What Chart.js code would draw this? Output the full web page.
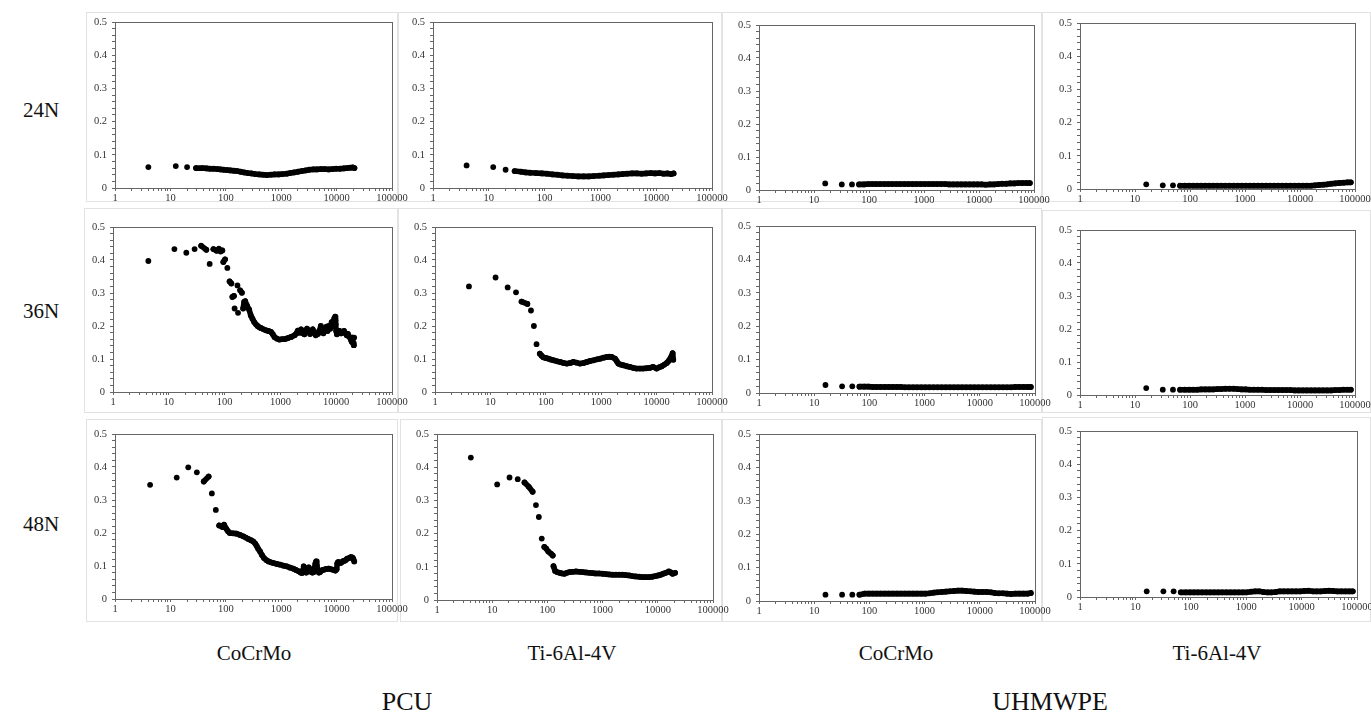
<!DOCTYPE html>
<html>
<head>
<meta charset="utf-8">
<script src="https://cdn.jsdelivr.net/npm/chart.js@4.4.1/dist/chart.umd.min.js"></script>
<style>
  body { margin: 0; background: #fff; width: 1371px; height: 714px; position: relative; overflow: hidden;
         font-family: "Liberation Serif", "DejaVu Serif", serif; }
  .tile { position: absolute; border: 1px solid #e2e2e2; box-sizing: border-box; }
  canvas { position: absolute; }
  .lbl { position: absolute; color: #111; white-space: nowrap; transform: translate(-50%, -50%); }
</style>
</head>
<body>
<script>
// tick labels
const xTickLabels = [1, 10, 100, 1000, 10000, 100000];
const yTickLabels = ['0', '0.1', '0.2', '0.3', '0.4', '0.5'];
const rowLabels = ['24N', '36N', '48N'];
const colLabels = ['CoCrMo', 'Ti-6Al-4V', 'CoCrMo', 'Ti-6Al-4V'];
const groupLabels = ['PCU', 'UHMWPE'];

// PCU panels: [cycles, friction coefficient]
const pcuCoCrMo24 = [[4,0.063],[12.5,0.066],[20,0.063],[29,0.060],[38,0.060],[45,0.059],[52,0.058],[60,0.058],[70,0.057],[80,0.056],
  [92,0.055],[105,0.054],[120,0.053],[140,0.052],[160,0.051],[185,0.049],[215,0.047],[250,0.045],[290,0.044],[340,0.042],
  [400,0.041],[470,0.040],[550,0.039],[650,0.040],[760,0.041],[900,0.041],[1050,0.042],[1250,0.043],[1450,0.045],[1700,0.047],
  [2000,0.049],[2350,0.051],[2750,0.053],[3200,0.055],[3800,0.056],[4400,0.056],[5200,0.057],[6100,0.057],[7200,0.056],[8400,0.057],
  [9800,0.058],[11500,0.058],[13500,0.059],[15500,0.060],[17500,0.061],[19500,0.062],[21000,0.060]];

const pcuTi24 = [[4,0.068],[12,0.063],[20,0.055],[29,0.051],[38,0.049],[46,0.047],[55,0.046],[70,0.045],[90,0.044],[110,0.043],
  [140,0.041],[170,0.040],[210,0.038],[260,0.037],[320,0.036],[400,0.035],[500,0.035],[620,0.035],[760,0.036],[950,0.037],
  [1150,0.038],[1400,0.039],[1700,0.040],[2100,0.041],[2500,0.042],[3000,0.043],[3700,0.044],[4500,0.044],[5500,0.043],[6600,0.044],
  [8000,0.045],[9500,0.044],[11500,0.045],[13500,0.043],[16000,0.044],[18500,0.042],[20500,0.044]];

const pcuCoCrMo36 = [[4.3,0.397],[12.6,0.433],[20.6,0.422],[29,0.433],[38,0.443],[47,0.431],[54,0.388],[63,0.433],[72,0.428],[79,0.434],
  [85,0.426],[91,0.429],[95,0.394],[102,0.402],[112,0.376],[123,0.335],[132,0.329],[138,0.288],[147,0.291],[151,0.253],
  [170,0.323],[174,0.240],[190,0.308],[204,0.301],[215,0.253],[224,0.273],[234,0.275],[250,0.263],[275,0.250],[295,0.232],
  [316,0.222],[339,0.212],[365,0.205],[390,0.200],[420,0.196],[447,0.194],[500,0.190],[550,0.187],[610,0.185],[680,0.182],
  [730,0.175],[780,0.167],[860,0.162],[960,0.159],[1070,0.160],[1180,0.160],[1350,0.163],[1560,0.167],[1800,0.172],[1950,0.178],
  [2050,0.186],[2200,0.180],[2350,0.190],[2500,0.178],[2700,0.175],[2850,0.185],[3000,0.192],[3200,0.182],[3400,0.176],[3570,0.186],
  [3800,0.190],[4000,0.180],[4300,0.172],[4500,0.180],[4700,0.176],[5000,0.185],[5300,0.200],[5600,0.188],[5900,0.178],[6300,0.190],
  [6700,0.198],[7000,0.185],[7400,0.200],[7800,0.192],[8300,0.212],[8800,0.200],[9000,0.211],[9200,0.222],[9600,0.228],[9700,0.216],
  [9800,0.205],[10000,0.185],[10300,0.175],[10800,0.180],[11500,0.185],[12200,0.178],[13000,0.182],[13800,0.185],[14600,0.178],[15400,0.172],
  [16200,0.176],[17000,0.168],[17700,0.165],[18400,0.158],[19000,0.152],[19600,0.165],[20200,0.148],[20700,0.142],[21000,0.165]];

const pcuTi36 = [[4.1,0.320],[12.4,0.347],[20.5,0.317],[29,0.302],[36.5,0.274],[46.5,0.267],[54,0.247],[61,0.200],[68,0.145],[78,0.116],
  [84,0.110],[90,0.105],[100,0.103],[112,0.101],[125,0.098],[138,0.096],[160,0.093],[182,0.091],[210,0.088],[240,0.086],
  [275,0.088],[315,0.091],[360,0.089],[415,0.086],[480,0.088],[550,0.091],[630,0.094],[725,0.096],[840,0.099],[960,0.101],
  [1100,0.104],[1260,0.106],[1400,0.107],[1550,0.106],[1780,0.101],[1900,0.094],[2040,0.086],[2250,0.083],[2500,0.081],[2900,0.078],
  [3300,0.076],[3800,0.073],[4350,0.071],[5000,0.071],[5700,0.071],[6500,0.072],[7500,0.073],[8600,0.076],[10000,0.071],[11200,0.075],
  [12400,0.078],[13800,0.083],[15300,0.088],[16500,0.094],[17500,0.100],[18500,0.108],[19500,0.118],[20000,0.098]];

const pcuCoCrMo48 = [[4.3,0.346],[13,0.368],[21,0.399],[30,0.384],[40,0.356],[49,0.371],[56,0.320],[66,0.270],[76,0.223],[87,0.218],
  [93,0.225],[103,0.212],[110,0.205],[118,0.200],[135,0.199],[156,0.198],[180,0.194],[207,0.190],[230,0.186],[255,0.182],
  [285,0.178],[315,0.174],[340,0.168],[360,0.161],[385,0.152],[415,0.144],[450,0.133],[490,0.124],[540,0.118],[590,0.114],
  [655,0.111],[725,0.109],[840,0.106],[960,0.104],[1100,0.101],[1260,0.099],[1450,0.095],[1660,0.092],[1850,0.088],[2070,0.084],
  [2250,0.080],[2380,0.079],[2500,0.090],[2550,0.099],[2650,0.092],[2750,0.085],[2850,0.080],[2930,0.084],[3050,0.092],[3150,0.096],
  [3270,0.090],[3370,0.085],[3500,0.082],[3650,0.080],[3870,0.082],[4000,0.095],[4150,0.108],[4270,0.114],[4400,0.100],[4550,0.088],
  [4790,0.080],[5050,0.082],[5300,0.086],[5600,0.088],[5900,0.089],[6500,0.091],[7250,0.092],[8000,0.090],[8900,0.088],[9500,0.086],
  [10000,0.090],[10300,0.108],[10600,0.112],[11000,0.111],[11800,0.109],[12500,0.112],[13100,0.115],[14000,0.116],[14600,0.118],[15500,0.122],
  [16800,0.124],[18000,0.127],[19200,0.126],[20000,0.122],[20800,0.114]];

const pcuTi48 = [[4.1,0.429],[12.3,0.348],[20.6,0.369],[29,0.364],[38.5,0.354],[46,0.341],[54,0.326],[62,0.286],[70,0.250],[79,0.185],
  [88,0.160],[95,0.155],[104,0.146],[117,0.139],[125,0.134],[129,0.102],[138,0.087],[150,0.084],[166,0.082],[185,0.080],
  [204,0.079],[225,0.082],[250,0.084],[290,0.085],[330,0.086],[380,0.085],[435,0.084],[500,0.083],[570,0.082],[660,0.081],
  [750,0.080],[860,0.080],[1000,0.079],[1150,0.078],[1320,0.077],[1510,0.076],[1740,0.076],[2000,0.076],[2290,0.076],[2640,0.075],
  [3030,0.074],[3470,0.072],[3980,0.071],[4580,0.070],[5250,0.069],[6000,0.069],[6900,0.069],[7900,0.070],[9100,0.072],[10100,0.074],
  [11300,0.076],[12500,0.079],[13900,0.082],[15900,0.086],[17200,0.083],[18500,0.079],[20600,0.082]];

// UHMWPE panels share the same cycle points
const uhmCycles = [16,32,49,66,81,97,115,135,160,190,225,265,315,370,440,520,620,730,870,1030,
  1220,1450,1720,2040,2420,2870,3400,4030,4780,5670,6720,7970,9450,11200,13300,15800,18700,22200,26300,31200,
  37000,43900,52000,61700,73100,84000];

const uhmCoCrMo24 = [0.020,0.017,0.017,0.017,0.017,0.018,0.018,0.018,0.018,0.018,
  0.018,0.018,0.018,0.018,0.018,0.018,0.018,0.018,0.018,0.018,
  0.018,0.018,0.018,0.018,0.018,0.017,0.017,0.017,0.017,0.017,
  0.017,0.017,0.017,0.017,0.016,0.017,0.017,0.018,0.019,0.019,
  0.020,0.020,0.021,0.021,0.021,0.021];
const uhmTi24 = [0.014,0.011,0.011,0.010,0.010,0.010,0.010,0.010,0.010,0.010,
  0.010,0.010,0.010,0.010,0.010,0.010,0.010,0.010,0.010,0.010,
  0.010,0.010,0.010,0.010,0.010,0.010,0.010,0.010,0.010,0.010,
  0.010,0.010,0.010,0.010,0.010,0.010,0.011,0.012,0.013,0.014,
  0.016,0.017,0.018,0.019,0.020,0.020];
const uhmCoCrMo36 = [0.024,0.020,0.020,0.019,0.019,0.019,0.018,0.018,0.018,0.018,
  0.018,0.018,0.018,0.018,0.017,0.017,0.017,0.017,0.017,0.017,
  0.017,0.017,0.017,0.017,0.017,0.017,0.017,0.017,0.017,0.017,
  0.017,0.017,0.017,0.017,0.017,0.017,0.017,0.017,0.017,0.017,
  0.017,0.018,0.018,0.018,0.018,0.018];
const uhmTi36 = [0.021,0.016,0.016,0.016,0.016,0.016,0.016,0.016,0.017,0.017,
  0.017,0.017,0.018,0.018,0.019,0.019,0.019,0.018,0.017,0.017,
  0.016,0.016,0.016,0.016,0.015,0.015,0.015,0.015,0.015,0.015,
  0.015,0.014,0.014,0.014,0.014,0.014,0.014,0.014,0.014,0.014,
  0.014,0.015,0.015,0.016,0.016,0.016];
const uhmCoCrMo48 = [0.019,0.019,0.019,0.019,0.022,0.022,0.022,0.022,0.022,0.022,
  0.022,0.022,0.022,0.022,0.022,0.022,0.022,0.022,0.022,0.022,
  0.023,0.025,0.026,0.027,0.028,0.029,0.030,0.031,0.031,0.030,
  0.029,0.028,0.027,0.027,0.027,0.026,0.024,0.023,0.023,0.022,
  0.021,0.022,0.022,0.022,0.022,0.024];
const uhmTi48 = [0.017,0.017,0.017,0.014,0.014,0.014,0.014,0.014,0.014,0.014,
  0.014,0.014,0.014,0.014,0.014,0.014,0.014,0.014,0.014,0.014,
  0.016,0.017,0.017,0.015,0.014,0.014,0.015,0.017,0.017,0.017,
  0.017,0.017,0.017,0.018,0.019,0.017,0.017,0.017,0.018,0.019,
  0.018,0.017,0.017,0.017,0.017,0.017];

function pairs(xs, ys) { return xs.map((x, i) => ({ x, y: ys[i] })); }
function pts(list) { return list.map(p => ({ x: p[0], y: p[1] })); }

// plot area of each panel on the page: left, top, right, bottom
const panels = [
  { data: pts(pcuCoCrMo24), box: [115, 22, 392, 188] },
  { data: pts(pcuTi24), box: [433, 22, 712, 188] },
  { data: pairs(uhmCycles, uhmCoCrMo24), box: [759, 25, 1034, 190] },
  { data: pairs(uhmCycles, uhmTi24), box: [1080, 23, 1355, 189] },
  { data: pts(pcuCoCrMo36), box: [113, 227, 392, 392] },
  { data: pts(pcuTi36), box: [435, 227, 712, 392] },
  { data: pairs(uhmCycles, uhmCoCrMo36), box: [759, 226, 1035, 393] },
  { data: pairs(uhmCycles, uhmTi36), box: [1080, 230, 1355, 395] },
  { data: pts(pcuCoCrMo48), box: [115, 434, 392, 599] },
  { data: pts(pcuTi48), box: [437, 434, 713, 600] },
  { data: pairs(uhmCycles, uhmCoCrMo48), box: [759, 434, 1035, 601] },
  { data: pairs(uhmCycles, uhmTi48), box: [1080, 431, 1357, 597] }
];

// the screenshot tiles behind the panels
const tiles = [
  [86, 12, 312, 190], [398, 12, 324, 190], [722, 12, 320, 190], [1042, 12, 329, 190],
  [84, 208, 314, 205], [398, 208, 324, 205], [722, 208, 320, 205], [1042, 210, 329, 203],
  [86, 419, 312, 203], [400, 419, 322, 203], [722, 419, 320, 203], [1042, 417, 329, 205]
];

tiles.forEach(t => {
  const d = document.createElement('div');
  d.className = 'tile';
  Object.assign(d.style, { left: t[0] + 'px', top: t[1] + 'px', width: t[2] + 'px', height: t[3] + 'px' });
  document.body.appendChild(d);
});

const plotBox = {
  id: 'plotBox',
  beforeDatasetsDraw(chart) {
    const a = chart.chartArea, c = chart.ctx;
    c.save();
    c.strokeStyle = '#666';
    c.lineWidth = 1;
    c.strokeRect(Math.round(a.left) + 0.5, Math.round(a.top) + 0.5, Math.round(a.right - a.left), Math.round(a.bottom - a.top));
    c.restore();
  }
};

const tickFont = { family: 'Liberation Serif', size: 10.5 };
const padL = 32, padR = 20, padT = 7, padB = 20;
const far = ctx => Math.hypot(ctx.p1.x - ctx.p0.x, ctx.p1.y - ctx.p0.y) > 7;

panels.forEach(p => {
  const [L, T, R, B] = p.box;
  const cv = document.createElement('canvas');
  cv.width = R - L + padL + padR;
  cv.height = B - T + padT + padB;
  cv.style.left = (L - padL) + 'px';
  cv.style.top = (T - padT) + 'px';
  document.body.appendChild(cv);

  new Chart(cv, {
    type: 'scatter',
    data: {
      datasets: [{
        data: p.data,
        showLine: true,
        borderWidth: 5.6,
        borderCapStyle: 'round',
        borderJoinStyle: 'round',
        borderColor: '#000',
        segment: { borderColor: ctx => far(ctx) ? 'rgba(0,0,0,0)' : '#000' },
        pointRadius: 2.9,
        pointBorderWidth: 0,
        pointBackgroundColor: '#000'
      }]
    },
    options: {
      responsive: false,
      animation: false,
      events: [],
      layout: { padding: { left: 2, right: padR, top: padT, bottom: 2 } },
      plugins: { legend: { display: false }, tooltip: { enabled: false } },
      scales: {
        x: {
          type: 'logarithmic',
          min: 1, max: 100000,
          afterBuildTicks: s => {
            const t = [];
            xTickLabels.forEach(d => { for (let k = 1; k <= 9; k++) if (k * d <= 100000) t.push({ value: k * d }); });
            s.ticks = t;
          },
          afterFit: s => { s.height = padB - 2; s.paddingLeft = 0; s.paddingRight = 0; },
          border: { display: true, color: '#555' },
          grid: { drawOnChartArea: false, drawTicks: true, tickLength: 3, color: '#666' },
          ticks: {
            autoSkip: false, maxRotation: 0, padding: 1, color: '#333', font: tickFont,
            callback: v => xTickLabels.includes(v) ? String(v) : ''
          }
        },
        y: {
          min: 0, max: 0.5,
          afterBuildTicks: s => {
            const t = [];
            for (let i = 0; i <= 25; i++) t.push({ value: i / 50 });
            s.ticks = t;
          },
          afterFit: s => { s.width = padL - 2; s.paddingTop = 0; s.paddingBottom = 0; },
          border: { display: true, color: '#555' },
          grid: { drawOnChartArea: false, drawTicks: true, tickLength: 3, color: '#666' },
          ticks: {
            autoSkip: false, padding: 5, color: '#333', font: tickFont,
            callback: (v, i) => i % 5 === 0 ? yTickLabels[i / 5] : ''
          }
        }
      }
    },
    plugins: [plotBox]
  });
});

function addLabel(text, x, y, size) {
  const d = document.createElement('div');
  d.className = 'lbl';
  d.textContent = text;
  Object.assign(d.style, { left: x + 'px', top: y + 'px', fontSize: size + 'px' });
  document.body.appendChild(d);
}

[110, 311, 524].forEach((y, i) => addLabel(rowLabels[i], 41, y, 21));
[254, 572, 896, 1217].forEach((x, i) => addLabel(colLabels[i], x, 653, 21));
[407, 1050].forEach((x, i) => addLabel(groupLabels[i], x, 702, 26));
</script>
</body>
</html>
